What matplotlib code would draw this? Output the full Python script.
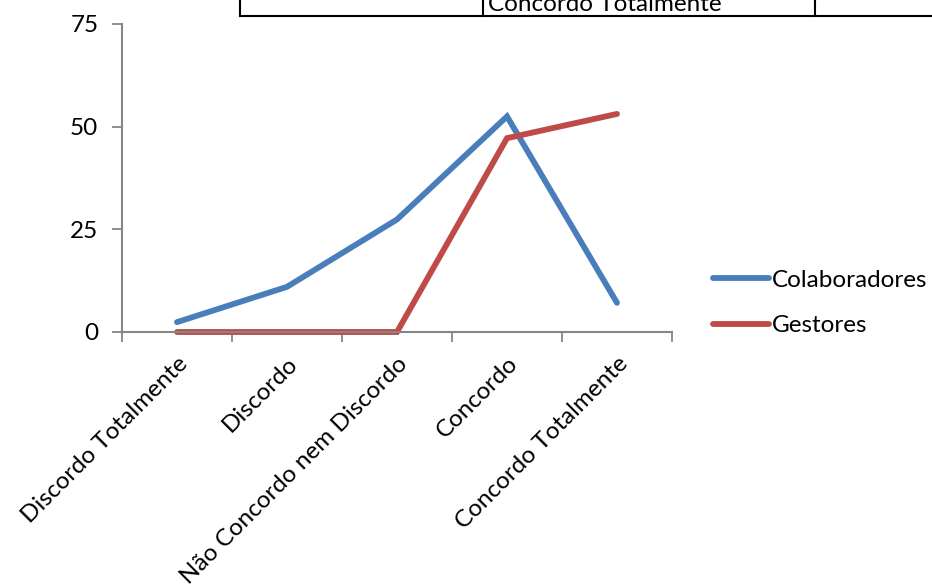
import matplotlib
matplotlib.use("Agg")
import matplotlib.pyplot as plt
from matplotlib.lines import Line2D

categories = ["Discordo Totalmente", "Discordo", "Não Concordo nem Discordo", "Concordo", "Concordo Totalmente"]
colaboradores = [2.4, 11.0, 27.4, 52.5, 7.1]
gestores = [0.0, 0.0, 0.0, 47.2, 53.1]
yticks = [0, 25, 50, 75]

plt.rcParams['font.family'] = ['Lato', 'DejaVu Sans']
FS = 17.5

W, H = 932, 585
fig = plt.figure(figsize=(W/100, H/100), dpi=100)
ax = fig.add_axes([122/W, 1-332/H, 550/W, 308/H])

x = list(range(len(categories)))
ax.plot(x, colaboradores, color='#4A7EBB', lw=4.2, solid_capstyle='round', solid_joinstyle='miter', label='Colaboradores', clip_on=False)
ax.plot(x, gestores, color='#BE4B48', lw=4.2, solid_capstyle='round', solid_joinstyle='miter', label='Gestores', clip_on=False)

ax.set_xlim(-0.5, len(categories)-0.5)
ax.set_ylim(0, 75)
ax.set_yticks(yticks)
ax.set_yticklabels([str(v) for v in yticks], fontsize=FS)
ax.set_xticks([i-0.5 for i in range(len(categories)+1)], minor=False)
ax.set_xticklabels([])
ax.set_xticks(x, minor=True)
ax.set_xticklabels(categories, minor=True, rotation=45, ha='right', va='top', rotation_mode='anchor', fontsize=FS)
ax.tick_params(axis='x', which='minor', length=0, pad=15)
ax.tick_params(axis='x', which='major', length=7, width=1.3, color='#868686', direction='out')
ax.tick_params(axis='y', length=7, width=1.3, color='#868686', direction='out', pad=10)
for s in ['top', 'right']:
    ax.spines[s].set_visible(False)
for s in ['left', 'bottom']:
    ax.spines[s].set_color('#868686')
    ax.spines[s].set_linewidth(1.5)
ax.set_facecolor('none')

handles = [Line2D([0], [0], color='#4A7EBB', lw=4.2, solid_capstyle='round'),
           Line2D([0], [0], color='#BE4B48', lw=4.2, solid_capstyle='round')]
fig.legend(handles, ['Colaboradores', 'Gestores'], loc='center left', bbox_to_anchor=(694/W, 1-303/H),
           frameon=False, fontsize=FS, handlelength=2.3, handletextpad=0.1, labelspacing=1.0, borderpad=0.3)

# table fragment at the top
lc = 'black'
fig.add_artist(Line2D([240/W, 1.0], [1-16/H, 1-16/H], color=lc, lw=1.5, transform=fig.transFigure))
for xv in [240, 483, 815]:
    fig.add_artist(Line2D([xv/W, xv/W], [1-16/H, 1.0], color=lc, lw=1.5, transform=fig.transFigure))
fig.text(488/W, 1-11/H, "Concordo Totalmente", fontsize=FS, ha='left', va='baseline')

fig.savefig("out.png", dpi=100)
